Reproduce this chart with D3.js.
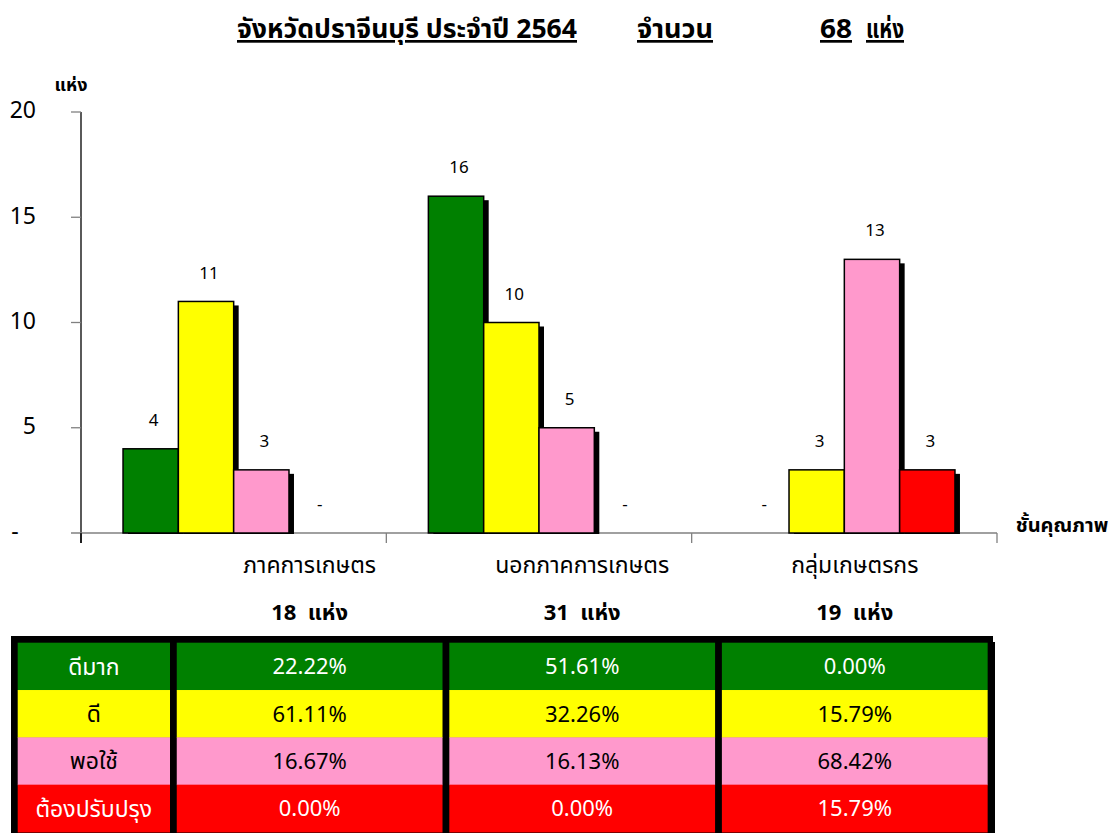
<!DOCTYPE html>
<html><head><meta charset="utf-8">
<script src="https://cdn.jsdelivr.net/npm/d3@7"></script>
<style>
body{margin:0;background:#fff;}
svg{display:block;font-family:Tahoma,"Noto Sans Thai","Noto Sans","DejaVu Sans",sans-serif;}
</style></head>
<body><svg id="c" width="1109" height="833"></svg>
<script>
// ---- data ----
const categories = ["ภาคการเกษตร", "นอกภาคการเกษตร", "กลุ่มเกษตรกร"];
const totals = [18, 31, 19];
const grades = ["ดีมาก", "ดี", "พอใช้", "ต้องปรับปรุง"];
const gradeColors = ["#008000", "#FFFF00", "#FF99CC", "#FF0000"];
const gradeText = ["#ffffff", "#000000", "#000000", "#ffffff"];
const veryGood = [4, 16, 0];
const good = [11, 10, 3];
const fair = [3, 5, 13];
const improve = [0, 0, 3];
const pctVeryGood = ["22.22%", "51.61%", "0.00%"];
const pctGood = ["61.11%", "32.26%", "15.79%"];
const pctFair = ["16.67%", "16.13%", "68.42%"];
const pctImprove = ["0.00%", "0.00%", "15.79%"];
const yTicks = [0, 5, 10, 15, 20];
const titleParts = ["จังหวัดปราจีนบุรี ประจำปี 2564", "จำนวน", "68", "แห่ง"];

const series = [veryGood, good, fair, improve];
const pcts = [pctVeryGood, pctGood, pctFair, pctImprove];

const svg = d3.select("#c");

// ---- scales ----
const y = d3.scaleLinear().domain([0, 20]).range([533, 112]);
const x0 = d3.scaleBand().domain(categories).range([81, 997]).padding(0);
const x1 = d3.scaleBand().domain(grades).range([0, x0.bandwidth()]).paddingInner(0).paddingOuter(0.76);
const colX = d3.scaleBand().domain(categories).range([173.35, 991.05]).paddingInner(0.025).paddingOuter(0.0125);
const rowY = d3.scaleBand().domain(grades).range([642.7, 832]);

// ---- title ----
const tpos = [[407, titleParts[0], 340], [675, titleParts[1], 76], [836, titleParts[2], 32], [885, titleParts[3], 38]];
tpos.forEach(([cx, t, w]) => {
  const el = svg.append("text").attr("x", cx).attr("y", 38).attr("text-anchor", "middle")
    .attr("font-size", 27).attr("font-weight", "bold").attr("text-decoration", "underline").text(t);
  const bw = el.node().getComputedTextLength();
  if (bw > 0) el.attr("textLength", w).attr("lengthAdjust", "spacingAndGlyphs").attr("x", cx);
});

// ---- axes ----
const gy = svg.append("g");
gy.append("line").attr("x1", 81).attr("x2", 81).attr("y1", y(20)).attr("y2", 543).attr("stroke", "#000").attr("stroke-width", 1.3);
gy.selectAll(".yt").data(yTicks.filter(d => d > 0)).join("line")
  .attr("x1", 71).attr("x2", 81).attr("y1", d => y(d)).attr("y2", d => y(d)).attr("stroke", "#808080").attr("stroke-width", 1.3);
gy.selectAll(".yl").data(yTicks).join("text")
  .attr("x", d => d === 0 ? 15 : 36).attr("y", d => y(d) - 2).attr("dy", "0.36em")
  .attr("text-anchor", d => d === 0 ? "middle" : "end").attr("font-size", 23)
  .text(d => d === 0 ? "-" : d);
svg.append("text").attr("x", 71).attr("y", 91).attr("text-anchor", "middle").attr("font-size", 18)
  .attr("font-weight", "bold").text("แห่ง");

// x axis line + category ticks
svg.append("line").attr("x1", 71).attr("x2", 997).attr("y1", y(0)).attr("y2", y(0)).attr("stroke", "#808080").attr("stroke-width", 1.3);
const tickXs = categories.map(c => x0(c)).concat([x0(categories[2]) + x0.bandwidth()]);
svg.selectAll(".xt").data(tickXs).join("line")
  .attr("x1", d => d).attr("x2", d => d).attr("y1", y(0)).attr("y2", 543)
  .attr("stroke", (d, i) => i === 0 ? "#000" : "#808080").attr("stroke-width", 1.3);
svg.append("text").attr("x", 1062).attr("y", 532).attr("text-anchor", "middle").attr("font-size", 20)
  .attr("font-weight", "bold").text("ชั้นคุณภาพ");

// ---- bars ----
const barData = [];
categories.forEach((c, ci) => grades.forEach((g, gi) => barData.push({ c, g, gi, v: series[gi][ci] })));
const gb = svg.append("g");
const nz = barData.filter(d => d.v > 0);
gb.selectAll(".sh").data(nz).join("rect")
  .attr("x", d => x0(d.c) + x1(d.g) + 5).attr("y", d => y(d.v) + 4)
  .attr("width", x1.bandwidth()).attr("height", d => y(0) - y(d.v) - 3).attr("fill", "#000");
gb.selectAll(".b").data(nz).join("rect")
  .attr("x", d => x0(d.c) + x1(d.g)).attr("y", d => y(d.v))
  .attr("width", x1.bandwidth()).attr("height", d => y(0) - y(d.v))
  .attr("fill", d => gradeColors[d.gi]).attr("stroke", "#000").attr("stroke-width", 1.5);
gb.selectAll(".lb").data(barData).join("text")
  .attr("x", d => x0(d.c) + x1(d.g) + x1.bandwidth() / 2 + 3).attr("y", d => y(d.v) - 29)
  .attr("dy", "0.36em").attr("text-anchor", "middle").attr("font-size", 17)
  .text(d => d.v === 0 ? "-" : d.v);

// ---- category names and totals (aligned to table columns) ----
svg.selectAll(".cn").data(categories).join("text")
  .attr("x", c => colX(c) + colX.bandwidth() / 2).attr("y", 565).attr("dy", "0.36em")
  .attr("text-anchor", "middle").attr("font-size", 23).text(c => c);
svg.selectAll(".ct").data(categories).join("text")
  .attr("x", c => colX(c) + colX.bandwidth() / 2).attr("y", 612).attr("dy", "0.36em")
  .attr("text-anchor", "middle").attr("font-size", 22).attr("font-weight", "bold")
  .text((c, i) => totals[i] + "\u00A0\u00A0แห่ง");

// ---- table ----
svg.append("rect").attr("x", 11).attr("y", 636).attr("width", 984).attr("height", 210).attr("fill", "#000");
svg.append("rect").attr("x", 993).attr("y", 636).attr("width", 16).attr("height", 6).attr("fill", "#fff");
const rows = svg.append("g");
grades.forEach((g, gi) => {
  rows.append("rect").attr("x", 17.7).attr("y", rowY(g)).attr("width", 170 - 17.7).attr("height", rowY.bandwidth() + 0.5)
    .attr("fill", gradeColors[gi]);
  rows.append("text").attr("x", (17.7 + 170) / 2).attr("y", rowY(g) + rowY.bandwidth() / 2).attr("dy", "0.36em")
    .attr("text-anchor", "middle").attr("font-size", 23).attr("fill", gradeText[gi]).text(g);
  categories.forEach((c, ci) => {
    rows.append("rect").attr("x", colX(c)).attr("y", rowY(g)).attr("width", colX.bandwidth()).attr("height", rowY.bandwidth() + 0.5)
      .attr("fill", gradeColors[gi]);
    rows.append("text").attr("x", colX(c) + colX.bandwidth() / 2).attr("y", rowY(g) + rowY.bandwidth() / 2).attr("dy", "0.36em")
      .attr("text-anchor", "middle").attr("font-size", 22).attr("fill", gradeText[gi]).text(pcts[gi][ci]);
  });
});
</script></body></html>
